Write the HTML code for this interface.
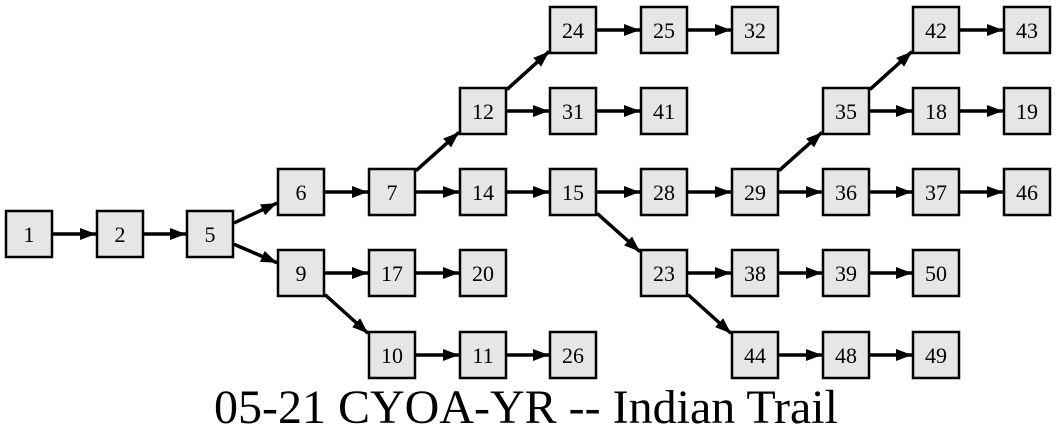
<!DOCTYPE html>
<html><head><meta charset="utf-8"><style>
html,body{margin:0;padding:0;background:#fff;}
svg{display:block;}
text{font-family:"Liberation Serif",serif;}
</style></head><body>
<svg id="s" width="1056" height="443" viewBox="0 0 1056 443" xmlns="http://www.w3.org/2000/svg">
<defs><marker id="a" markerWidth="16" markerHeight="12" refX="16" refY="6" orient="auto" markerUnits="userSpaceOnUse"><path d="M0,0 L16,6 L0,12 z" fill="#000"/></marker></defs>
<g id="e" stroke="#000" stroke-width="3.5" marker-end="url(#a)"></g>
<g id="n" font-size="22" text-anchor="middle">
<g transform="translate(29,234)"><rect x="-23" y="-23" width="46" height="46" fill="#e6e6e6" stroke="#000" stroke-width="2.5"/><text y="8">1</text></g>
<g transform="translate(120,234)"><rect x="-23" y="-23" width="46" height="46" fill="#e6e6e6" stroke="#000" stroke-width="2.5"/><text y="8">2</text></g>
<g transform="translate(210,234)"><rect x="-23" y="-23" width="46" height="46" fill="#e6e6e6" stroke="#000" stroke-width="2.5"/><text y="8">5</text></g>
<g transform="translate(301,192)"><rect x="-23" y="-23" width="46" height="46" fill="#e6e6e6" stroke="#000" stroke-width="2.5"/><text y="8">6</text></g>
<g transform="translate(301,273)"><rect x="-23" y="-23" width="46" height="46" fill="#e6e6e6" stroke="#000" stroke-width="2.5"/><text y="8">9</text></g>
<g transform="translate(392,192)"><rect x="-23" y="-23" width="46" height="46" fill="#e6e6e6" stroke="#000" stroke-width="2.5"/><text y="8">7</text></g>
<g transform="translate(392,273)"><rect x="-23" y="-23" width="46" height="46" fill="#e6e6e6" stroke="#000" stroke-width="2.5"/><text y="8">17</text></g>
<g transform="translate(392,355)"><rect x="-23" y="-23" width="46" height="46" fill="#e6e6e6" stroke="#000" stroke-width="2.5"/><text y="8">10</text></g>
<g transform="translate(483,111)"><rect x="-23" y="-23" width="46" height="46" fill="#e6e6e6" stroke="#000" stroke-width="2.5"/><text y="8">12</text></g>
<g transform="translate(483,192)"><rect x="-23" y="-23" width="46" height="46" fill="#e6e6e6" stroke="#000" stroke-width="2.5"/><text y="8">14</text></g>
<g transform="translate(483,273)"><rect x="-23" y="-23" width="46" height="46" fill="#e6e6e6" stroke="#000" stroke-width="2.5"/><text y="8">20</text></g>
<g transform="translate(483,355)"><rect x="-23" y="-23" width="46" height="46" fill="#e6e6e6" stroke="#000" stroke-width="2.5"/><text y="8">11</text></g>
<g transform="translate(573,30)"><rect x="-23" y="-23" width="46" height="46" fill="#e6e6e6" stroke="#000" stroke-width="2.5"/><text y="8">24</text></g>
<g transform="translate(573,111)"><rect x="-23" y="-23" width="46" height="46" fill="#e6e6e6" stroke="#000" stroke-width="2.5"/><text y="8">31</text></g>
<g transform="translate(573,192)"><rect x="-23" y="-23" width="46" height="46" fill="#e6e6e6" stroke="#000" stroke-width="2.5"/><text y="8">15</text></g>
<g transform="translate(573,355)"><rect x="-23" y="-23" width="46" height="46" fill="#e6e6e6" stroke="#000" stroke-width="2.5"/><text y="8">26</text></g>
<g transform="translate(664,30)"><rect x="-23" y="-23" width="46" height="46" fill="#e6e6e6" stroke="#000" stroke-width="2.5"/><text y="8">25</text></g>
<g transform="translate(664,111)"><rect x="-23" y="-23" width="46" height="46" fill="#e6e6e6" stroke="#000" stroke-width="2.5"/><text y="8">41</text></g>
<g transform="translate(664,192)"><rect x="-23" y="-23" width="46" height="46" fill="#e6e6e6" stroke="#000" stroke-width="2.5"/><text y="8">28</text></g>
<g transform="translate(664,273)"><rect x="-23" y="-23" width="46" height="46" fill="#e6e6e6" stroke="#000" stroke-width="2.5"/><text y="8">23</text></g>
<g transform="translate(755,30)"><rect x="-23" y="-23" width="46" height="46" fill="#e6e6e6" stroke="#000" stroke-width="2.5"/><text y="8">32</text></g>
<g transform="translate(755,192)"><rect x="-23" y="-23" width="46" height="46" fill="#e6e6e6" stroke="#000" stroke-width="2.5"/><text y="8">29</text></g>
<g transform="translate(755,273)"><rect x="-23" y="-23" width="46" height="46" fill="#e6e6e6" stroke="#000" stroke-width="2.5"/><text y="8">38</text></g>
<g transform="translate(755,355)"><rect x="-23" y="-23" width="46" height="46" fill="#e6e6e6" stroke="#000" stroke-width="2.5"/><text y="8">44</text></g>
<g transform="translate(846,111)"><rect x="-23" y="-23" width="46" height="46" fill="#e6e6e6" stroke="#000" stroke-width="2.5"/><text y="8">35</text></g>
<g transform="translate(846,192)"><rect x="-23" y="-23" width="46" height="46" fill="#e6e6e6" stroke="#000" stroke-width="2.5"/><text y="8">36</text></g>
<g transform="translate(846,273)"><rect x="-23" y="-23" width="46" height="46" fill="#e6e6e6" stroke="#000" stroke-width="2.5"/><text y="8">39</text></g>
<g transform="translate(846,355)"><rect x="-23" y="-23" width="46" height="46" fill="#e6e6e6" stroke="#000" stroke-width="2.5"/><text y="8">48</text></g>
<g transform="translate(936,30)"><rect x="-23" y="-23" width="46" height="46" fill="#e6e6e6" stroke="#000" stroke-width="2.5"/><text y="8">42</text></g>
<g transform="translate(936,111)"><rect x="-23" y="-23" width="46" height="46" fill="#e6e6e6" stroke="#000" stroke-width="2.5"/><text y="8">18</text></g>
<g transform="translate(936,192)"><rect x="-23" y="-23" width="46" height="46" fill="#e6e6e6" stroke="#000" stroke-width="2.5"/><text y="8">37</text></g>
<g transform="translate(936,273)"><rect x="-23" y="-23" width="46" height="46" fill="#e6e6e6" stroke="#000" stroke-width="2.5"/><text y="8">50</text></g>
<g transform="translate(936,355)"><rect x="-23" y="-23" width="46" height="46" fill="#e6e6e6" stroke="#000" stroke-width="2.5"/><text y="8">49</text></g>
<g transform="translate(1027,30)"><rect x="-23" y="-23" width="46" height="46" fill="#e6e6e6" stroke="#000" stroke-width="2.5"/><text y="8">43</text></g>
<g transform="translate(1027,111)"><rect x="-23" y="-23" width="46" height="46" fill="#e6e6e6" stroke="#000" stroke-width="2.5"/><text y="8">19</text></g>
<g transform="translate(1027,192)"><rect x="-23" y="-23" width="46" height="46" fill="#e6e6e6" stroke="#000" stroke-width="2.5"/><text y="8">46</text></g>
</g>
<text x="526" y="423" font-size="48" text-anchor="middle">05-21 CYOA-YR -- Indian Trail</text>
</svg>
<script>
var P={1:[29,234],2:[120,234],5:[210,234],6:[301,192],9:[301,273],7:[392,192],17:[392,273],10:[392,355],12:[483,111],14:[483,192],20:[483,273],11:[483,355],24:[573,30],31:[573,111],15:[573,192],26:[573,355],25:[664,30],41:[664,111],28:[664,192],23:[664,273],32:[755,30],29:[755,192],38:[755,273],44:[755,355],35:[846,111],36:[846,192],39:[846,273],48:[846,355],42:[936,30],18:[936,111],37:[936,192],50:[936,273],49:[936,355],43:[1027,30],19:[1027,111],46:[1027,192]};
var E=[[1,2],[2,5],[5,6],[5,9],[6,7],[9,17],[9,10],[17,20],[10,11],[11,26],[7,12],[7,14],[12,24],[12,31],[24,25],[25,32],[31,41],[14,15],[15,28],[15,23],[28,29],[23,38],[23,44],[38,39],[39,50],[44,48],[48,49],[29,35],[29,36],[35,42],[35,18],[42,43],[18,19],[36,37],[37,46]];
function clip(c,dx,dy,h){var t=Math.min(dx?h/Math.abs(dx):1e9,dy?h/Math.abs(dy):1e9);return [c[0]+dx*t,c[1]+dy*t];}
var g=document.getElementById('e'),ns='http://www.w3.org/2000/svg';
E.forEach(function(e){var a=P[e[0]],b=P[e[1]],dx=b[0]-a[0],dy=b[1]-a[1];var s=clip(a,dx,dy,24),t=clip(b,-dx,-dy,24);var l=document.createElementNS(ns,'line');l.setAttribute('x1',s[0]);l.setAttribute('y1',s[1]);l.setAttribute('x2',t[0]);l.setAttribute('y2',t[1]);g.appendChild(l);});
</script>
</body></html>
